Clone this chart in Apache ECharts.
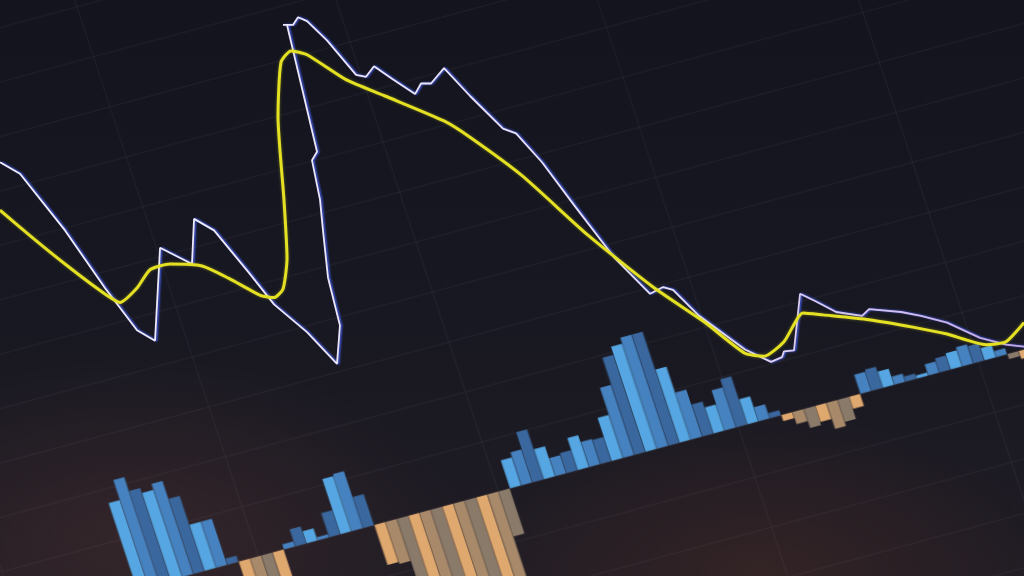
<!DOCTYPE html>
<html><head><meta charset="utf-8">
<script src="https://cdn.jsdelivr.net/npm/echarts@6/dist/echarts.min.js"></script>
<style>
html,body{margin:0;padding:0;width:1024px;height:576px;overflow:hidden;}
body{background:
 radial-gradient(ellipse 460px 260px at 140px 540px, rgba(78,50,50,0.45), rgba(0,0,0,0) 70%),
 radial-gradient(ellipse 420px 220px at 760px 570px, rgba(88,50,40,0.35), rgba(0,0,0,0) 70%),
 linear-gradient(180deg,#13141d 0%,#161721 45%,#201c24 100%);}
#bg{position:absolute;left:0;top:0;width:1400px;height:1000px;transform-origin:0 0;transform:matrix(1,-0.27,0.33,1,-330,-20);filter:blur(0.5px);}
#fg{position:absolute;left:0;top:0;width:1024px;height:576px;}
</style></head><body>
<div id="bg"></div><div id="fg"></div>
<script>
// Histogram (MACD bars), one value per period
const histValues = [
  0.86, 1.06, 0.92, 0.87, 0.93, 0.75, 0.46, 0.46, 0.06,
  -0.30, -0.35, -0.38, -0.28,
  0.05, 0.17, 0.12, 0.03, 0.24, 0.55, 0.57, 0.31,
  -0.40, -0.42, -0.70, -0.85, -0.95, -0.90, -1.00, -1.05, -1.00, -0.95, -0.85, -0.45,
  0.28, 0.33, 0.50, 0.30, 0.18, 0.20, 0.32, 0.25, 0.24, 0.43, 0.70, 0.97, 1.05, 1.11, 1.11, 0.73, 0.47, 0.32, 0.26, 0.40, 0.48, 0.25, 0.14, 0.05,
  -0.06, -0.12, -0.19, -0.16, -0.26, -0.22, -0.12,
  0.19, 0.21, 0.16, 0.08, 0.05, 0.03, 0.11, 0.14, 0.16, 0.19, 0.17, 0.12, 0.06,
  -0.05, -0.08
];
const histCats = histValues.map((_, i) => String(i + 1));

// MACD line (white): time position and value
const macdT = [0, 1.95, 6.35, 10.25, 13.38, 15.14, 15.63, 18.75, 18.95, 20.9, 24.22, 26.76, 29.98, 32.91, 33.2, 32.03, 31.54, 31.25, 30.47, 30.96, 28.03, 27.64, 28.61, 29.1, 29.98, 31.93, 34.77, 35.74, 36.52, 38.28, 40.53, 41.11, 42.09, 43.36, 45.9, 49.12, 50.39, 52.93, 56.15, 59.96, 63.48, 64.75, 65.72, 68.26, 72.75, 75.29, 76.37, 76.56, 77.54, 78.13, 79.69, 81.64, 84.18, 84.86, 87.99, 89.94, 92.48, 95.7, 98.24, 100];
const macdV = [2.31, 2.19, 1.60, 1.00, 0.56, 0.45, 1.42, 1.25, 1.72, 1.60, 1.17, 0.83, 0.54, 0.21, 0.61, 1.11, 1.60, 1.92, 2.33, 2.42, 3.74, 3.74, 3.74, 3.82, 3.78, 3.58, 3.22, 3.20, 3.31, 3.18, 3.02, 3.13, 3.13, 3.29, 3.00, 2.66, 2.61, 2.31, 1.85, 1.32, 0.94, 1.01, 0.98, 0.71, 0.36, 0.23, 0.28, 0.34, 0.35, 0.94, 0.86, 0.75, 0.71, 0.78, 0.75, 0.71, 0.64, 0.48, 0.41, 0.39];

// Signal line (yellow)
const sigT = [0, 3.22, 6.35, 9.57, 11.72, 13.38, 14.65, 16.6, 19.73, 22.36, 25.49, 26.76, 27.64, 28.03, 27.73, 27.15, 27.44, 28.42, 29.98, 33.79, 37.6, 43.36, 45.9, 50.98, 57.42, 63.77, 68.85, 72.75, 74.61, 76.56, 78.42, 80.37, 84.86, 89.26, 92.48, 96.29, 98.24, 100];
const sigV = [1.81, 1.52, 1.25, 0.99, 0.85, 1.00, 1.19, 1.25, 1.23, 1.10, 0.92, 0.90, 0.99, 1.31, 1.92, 2.78, 3.35, 3.47, 3.43, 3.17, 3.00, 2.74, 2.57, 2.17, 1.55, 1.01, 0.64, 0.32, 0.29, 0.44, 0.74, 0.72, 0.67, 0.59, 0.52, 0.41, 0.44, 0.64];

const zip = (a, b) => a.map((x, i) => [x, b[i]]);

const gridLine = {show: true, lineStyle: {color: 'rgba(200,200,220,0.06)', width: 1}};
const bg = echarts.init(document.getElementById('bg'), null, {renderer: 'canvas'});
bg.setOption({
  animation: false,
  backgroundColor: 'transparent',
  grid: [
    {left: 244, right: 263, top: 25, bottom: 0},
    {left: 125, right: 0, top: 25, bottom: 25}
  ],
  xAxis: [
    {type: 'category', data: histCats, gridIndex: 0, show: false, boundaryGap: true},
    {type: 'value', gridIndex: 1, min: 0, max: 1275, interval: 240,
     axisLine: {show: false}, axisTick: {show: false}, axisLabel: {show: false}, splitLine: gridLine}
  ],
  yAxis: [
    {type: 'value', gridIndex: 0, min: -3.25, max: 6.5, show: false},
    {type: 'value', gridIndex: 1, min: -3.0, max: 6.5, interval: 0.5,
     axisLine: {show: false}, axisTick: {show: false}, axisLabel: {show: false}, splitLine: gridLine}
  ],
  series: [{
    type: 'bar', xAxisIndex: 0, yAxisIndex: 0, data: histValues, barCategoryGap: '4%',
    itemStyle: {
      color: p => p.value >= 0
        ? ['#55a6e2', '#4682c0', '#3a689e'][p.dataIndex % 3]
        : ['#dfa86f', '#a88a6a', '#8a7a6a'][p.dataIndex % 3]
    }
  }]
});

const fg = echarts.init(document.getElementById('fg'), null, {renderer: 'canvas'});
fg.setOption({
  animation: false,
  backgroundColor: 'transparent',
  grid: {left: 0, right: 0, top: 0, bottom: 0},
  xAxis: {type: 'value', min: 0, max: 100, show: false},
  yAxis: {type: 'value', min: -2, max: 4, show: false},
  series: [
    {type: 'line', data: zip(macdT, macdV), showSymbol: false, symbol: 'none',
     lineStyle: {width: 1.8,
       color: {type: 'linear', x: 0, y: 0, x2: 1, y2: 0, colorStops: [
         {offset: 0, color: '#f2eefc'}, {offset: 0.7, color: '#e6dcf5'}, {offset: 1, color: '#c2a6e4'}]},
       shadowColor: 'rgba(70,100,255,0.9)', shadowBlur: 2, shadowOffsetX: 1.5}},
    {type: 'line', data: zip(sigT, sigV), showSymbol: false, symbol: 'none', smooth: 0.2,
     lineStyle: {width: 3, color: '#e4e024', shadowColor: 'rgba(228,224,36,0.4)', shadowBlur: 3}}
  ]
});
</script>
</body></html>
